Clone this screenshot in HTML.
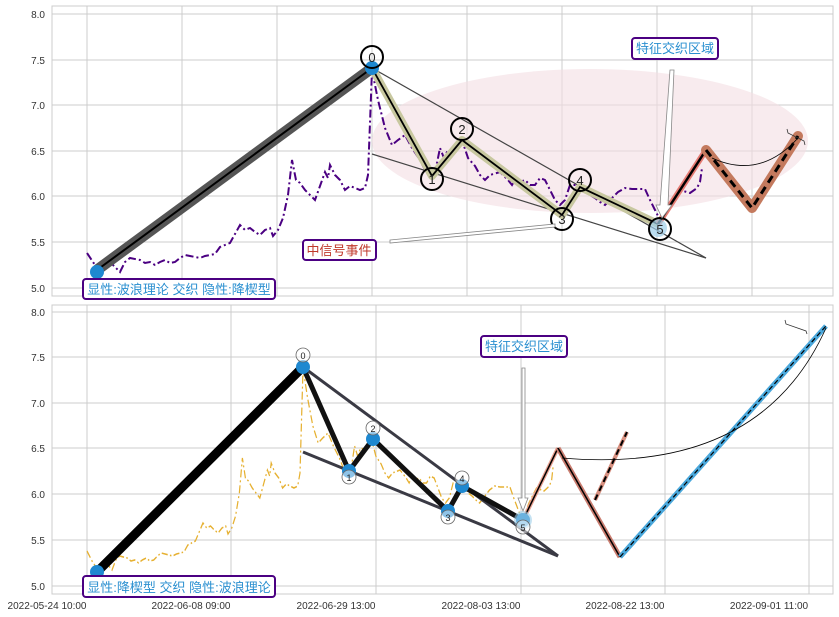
<!DOCTYPE html>
<html><head><meta charset="utf-8"><style>
body{margin:0;background:#fff;}
svg{display:block;font-family:"Liberation Sans","Noto Sans CJK SC",sans-serif;}
</style></head><body>
<svg width="839" height="617" viewBox="0 0 839 617" xmlns="http://www.w3.org/2000/svg">
<defs>
<polyline id="price" fill="none" points="87,253 95,265 100,270 110,262 120,272 125,262 130,258 140,260 145,263 150,262 155,265 160,262 165,260 170,263 175,262 180,258 185,255 190,256 195,257 200,258 205,256 210,255 215,254 220,247 225,245 230,243 240,225 245,230 250,228 255,232 260,235 265,230 270,228 273,236 278,230 283,218 288,195 292,160 296,180 300,183 305,190 310,195 315,200 320,186 325,172 328,178 330,165 335,175 340,180 345,190 350,186 355,188 360,190 365,188 368,175 372,70 378,100 385,128 392,145 398,140 405,135 412,148 420,160 425,170 430,175 436,168 440,148 444,158 448,150 455,152 462,140 468,158 475,166 480,175 485,180 490,175 500,172 508,180 512,185 516,178 520,182 525,180 530,185 535,185 540,178 545,180 550,190 555,200 560,205 565,200 570,185 578,185 585,190 590,195 595,198 600,202 605,205 610,200 618,192 625,188 632,189 645,189 650,200 655,210 660,220 665,215 670,205 680,190 690,193 697,188 700,182 702,168"/>
</defs>
<!-- TOP PANEL -->
<rect x="52" y="6" width="781" height="290" fill="#fff" stroke="#ccc"/>
<g stroke="#ccc" stroke-width="1">
<line x1="52" y1="14" x2="833" y2="14"/><line x1="52" y1="60" x2="833" y2="60"/><line x1="52" y1="105" x2="833" y2="105"/><line x1="52" y1="151" x2="833" y2="151"/><line x1="52" y1="196" x2="833" y2="196"/><line x1="52" y1="242" x2="833" y2="242"/><line x1="52" y1="288" x2="833" y2="288"/>
<line x1="87" y1="6" x2="87" y2="296"/><line x1="182" y1="6" x2="182" y2="296"/><line x1="277" y1="6" x2="277" y2="296"/><line x1="372" y1="6" x2="372" y2="296"/><line x1="467" y1="6" x2="467" y2="296"/><line x1="562" y1="6" x2="562" y2="296"/><line x1="657" y1="6" x2="657" y2="296"/><line x1="752" y1="6" x2="752" y2="296"/>
</g>
<g font-size="10" fill="#333" text-anchor="end">
<text x="45" y="18">8.0</text><text x="45" y="64">7.5</text><text x="45" y="109">7.0</text><text x="45" y="155">6.5</text><text x="45" y="200">6.0</text><text x="45" y="246">5.5</text><text x="45" y="292">5.0</text>
</g>
<ellipse cx="590" cy="141" rx="218" ry="72" fill="#f3dde3" opacity="0.6"/>
<use href="#price" stroke="#4b0082" stroke-width="2" stroke-dasharray="8,3,2,3"/>
<line x1="97" y1="270" x2="372" y2="68" stroke="#555" stroke-width="11"/>
<line x1="97" y1="270" x2="372" y2="68" stroke="#000" stroke-width="2"/>
<line x1="372" y1="68" x2="706" y2="258" stroke="#444" stroke-width="1.2"/>
<line x1="372" y1="154" x2="706" y2="258" stroke="#444" stroke-width="1.2"/>
<polyline points="372,68 432,176 462,140 562,215 580,187 658,224" fill="none" stroke="#c8c8a0" stroke-width="8" stroke-linejoin="round"/>
<polyline points="372,68 432,176 462,140 562,215 580,187 658,224" fill="none" stroke="#000" stroke-width="1.8"/>
<polyline points="658,224 706,150" fill="none" stroke="#e57b73" stroke-width="6"/>
<polyline points="658,224 706,150" fill="none" stroke="#000" stroke-width="2.5"/>
<polyline points="706,150 752,208 798,136" fill="none" stroke="#c47a5e" stroke-width="10" stroke-linejoin="round" stroke-linecap="round"/>
<polyline points="706,150 752,208 798,136" fill="none" stroke="#000" stroke-width="3" stroke-dasharray="8,5"/>
<path d="M712,158 Q760,180 798,138" fill="none" stroke="#000" stroke-width="0.8"/>
<path d="M787,129 L788,133 L804,141 L805,145" fill="none" stroke="#333" stroke-width="0.8"/>
<circle cx="97" cy="272" r="7" fill="#1e88d0"/>
<circle cx="372" cy="68" r="7" fill="#1e88d0"/>
<circle cx="658" cy="228" r="9" fill="#9ecfea" opacity="0.7"/>
<g fill="none" stroke="#000" stroke-width="2">
<circle cx="372" cy="57" r="11"/><circle cx="432" cy="179" r="11"/><circle cx="462" cy="129" r="11"/><circle cx="562" cy="219" r="11"/><circle cx="580" cy="180" r="11"/><circle cx="660" cy="229" r="11"/>
</g>
<g font-size="13" text-anchor="middle" fill="#222">
<text x="372" y="62">0</text><text x="432" y="184">1</text><text x="462" y="134">2</text><text x="562" y="224">3</text><text x="580" y="185">4</text><text x="660" y="234">5</text>
</g>
<polygon points="390,240 555,224 555,227 390,243" fill="#fff" stroke="#888" stroke-width="0.8"/>
<polygon points="670,70 674,70 668,205 672,205 662,218 656,205 660,205" fill="#fff" stroke="#888" stroke-width="0.8"/>
<rect x="83" y="279" width="192" height="20" rx="3" fill="#fff" stroke="#4b0082" stroke-width="2"/>
<text x="179" y="294" font-size="13" fill="#2a8fd0" text-anchor="middle">显性:波浪理论 交织 隐性:降楔型</text>
<rect x="303" y="240" width="73" height="20" rx="3" fill="#fff" stroke="#4b0082" stroke-width="2"/>
<text x="339" y="255" font-size="13" fill="#c0392b" text-anchor="middle">中信号事件</text>
<rect x="632" y="38" width="86" height="21" rx="3" fill="#fff" stroke="#4b0082" stroke-width="2"/>
<text x="675" y="53" font-size="13" fill="#2a8fd0" text-anchor="middle">特征交织区域</text>

<!-- BOTTOM PANEL -->
<rect x="52" y="305" width="781" height="289" fill="#fff" stroke="#ccc"/>
<g stroke="#ccc" stroke-width="1">
<line x1="52" y1="312" x2="833" y2="312"/><line x1="52" y1="357" x2="833" y2="357"/><line x1="52" y1="403" x2="833" y2="403"/><line x1="52" y1="448" x2="833" y2="448"/><line x1="52" y1="494" x2="833" y2="494"/><line x1="52" y1="540" x2="833" y2="540"/><line x1="52" y1="586" x2="833" y2="586"/>
<line x1="87" y1="305" x2="87" y2="594"/><line x1="231" y1="305" x2="231" y2="594"/><line x1="376" y1="305" x2="376" y2="594"/><line x1="521" y1="305" x2="521" y2="594"/><line x1="665" y1="305" x2="665" y2="594"/><line x1="809" y1="305" x2="809" y2="594"/>
</g>
<g font-size="10" fill="#333" text-anchor="end">
<text x="45" y="316">8.0</text><text x="45" y="361">7.5</text><text x="45" y="407">7.0</text><text x="45" y="452">6.5</text><text x="45" y="498">6.0</text><text x="45" y="544">5.5</text><text x="45" y="590">5.0</text>
</g>
<g font-size="10" fill="#333" text-anchor="middle">
<text x="47" y="609">2022-05-24 10:00</text><text x="191" y="609">2022-06-08 09:00</text><text x="336" y="609">2022-06-29 13:00</text><text x="481" y="609">2022-08-03 13:00</text><text x="625" y="609">2022-08-22 13:00</text><text x="769" y="609">2022-09-01 11:00</text>
</g>
<g transform="matrix(0.758 0 0 1 21.05 298)">
<use href="#price" stroke="#e6b030" stroke-width="1.6" stroke-dasharray="8,3,2,3" vector-effect="non-scaling-stroke"/>
</g>
<line x1="97" y1="572" x2="303" y2="367" stroke="#000" stroke-width="9"/>
<line x1="303" y1="367" x2="558" y2="556" stroke="#3a3a44" stroke-width="3"/>
<line x1="303" y1="452" x2="558" y2="556" stroke="#3a3a44" stroke-width="3"/>
<polyline points="303,367 349,471 373,439 448,511 462,486 523,520" fill="none" stroke="#111" stroke-width="5" stroke-linejoin="round"/>
<polyline points="523,520 558,448" fill="none" stroke="#e8a090" stroke-width="4"/>
<polyline points="523,520 558,448" fill="none" stroke="#000" stroke-width="1.5"/>
<polyline points="558,448 620,557" fill="none" stroke="#c97d70" stroke-width="5"/>
<polyline points="558,448 620,557" fill="none" stroke="#000" stroke-width="1.5"/>
<polyline points="595,500 627,432" fill="none" stroke="#d89080" stroke-width="4"/>
<polyline points="595,500 627,432" fill="none" stroke="#000" stroke-width="2" stroke-dasharray="6,4"/>
<polyline points="620,557 826,326" fill="none" stroke="#4aa8dc" stroke-width="5"/>
<polyline points="620,557 826,326" fill="none" stroke="#000" stroke-width="1.2" stroke-dasharray="5,3"/>
<path d="M562,458 Q760,475 826,328" fill="none" stroke="#000" stroke-width="0.8"/>
<path d="M785,320 L786,324 L806,331 L807,334" fill="none" stroke="#333" stroke-width="0.8"/>
<g fill="#1e88d0">
<circle cx="97" cy="572" r="7"/><circle cx="303" cy="367" r="7"/><circle cx="349" cy="471" r="7"/><circle cx="373" cy="439" r="7"/><circle cx="448" cy="511" r="7"/><circle cx="462" cy="486" r="7"/><circle cx="523" cy="520" r="7"/>
</g>
<circle cx="523" cy="520" r="9" fill="#9ecfea" opacity="0.6"/>
<g fill="#fff" fill-opacity="0.5" stroke="#666" stroke-width="0.8">
<circle cx="303" cy="355" r="7"/><circle cx="349" cy="477" r="7"/><circle cx="373" cy="428" r="7"/><circle cx="448" cy="517" r="7"/><circle cx="462" cy="478" r="7"/><circle cx="523" cy="527" r="7"/>
</g>
<g font-size="9" text-anchor="middle" fill="#222">
<text x="303" y="359">0</text><text x="349" y="481">1</text><text x="373" y="432">2</text><text x="448" y="521">3</text><text x="462" y="482">4</text><text x="523" y="531">5</text>
</g>
<polygon points="522,368 525,368 525,498 528,498 523,511 518,498 522,498" fill="#fff" stroke="#888" stroke-width="0.8"/>
<rect x="83" y="576" width="192" height="21" rx="3" fill="#fff" stroke="#4b0082" stroke-width="2"/>
<text x="179" y="592" font-size="13" fill="#2a8fd0" text-anchor="middle">显性:降楔型 交织 隐性:波浪理论</text>
<rect x="481" y="336" width="86" height="21" rx="3" fill="#fff" stroke="#4b0082" stroke-width="2"/>
<text x="524" y="351" font-size="13" fill="#2a8fd0" text-anchor="middle">特征交织区域</text>
</svg>
</body></html>
